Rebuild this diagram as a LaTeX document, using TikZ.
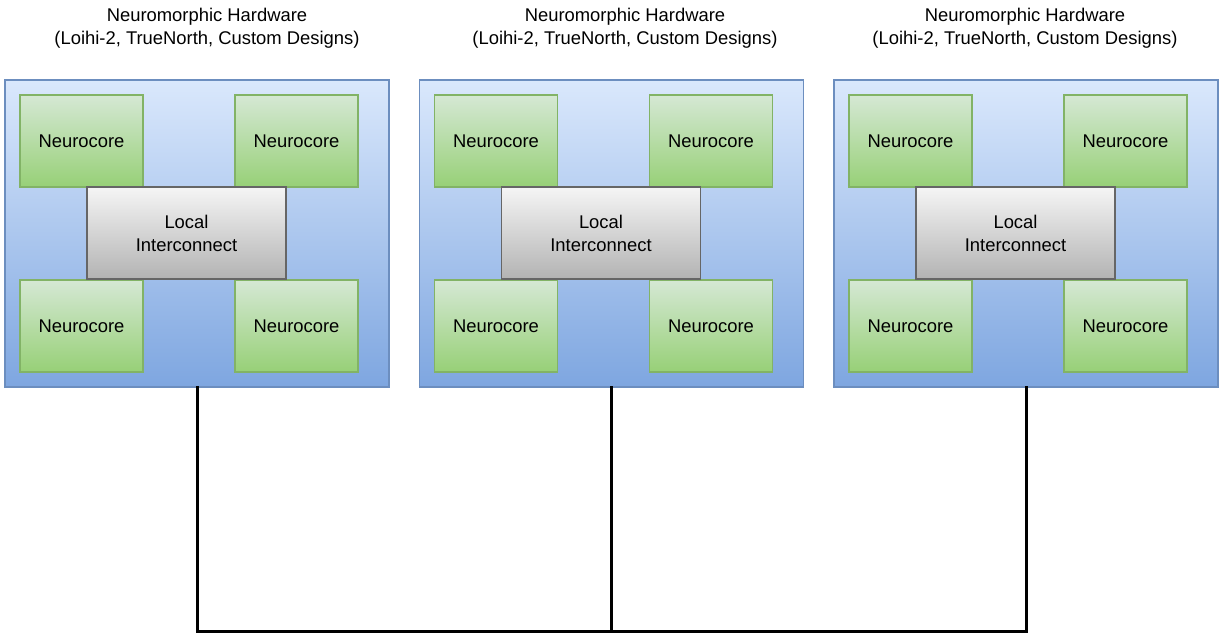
\documentclass[tikz,border=0pt]{standalone}
\usepackage{fontspec}
\setmainfont{Liberation Sans}
\begin{document}
\begin{tikzpicture}[x=1pt,y=-1pt,
  every node/.style={font=\fontsize{18.4}{23}\selectfont, align=center, inner sep=0pt},
  chip/.style={draw={rgb,255:red,108;green,142;blue,191}, line width=1.2pt, top color={rgb,255:red,218;green,232;blue,252}, bottom color={rgb,255:red,126;green,166;blue,224}, minimum width=384pt, minimum height=307pt},
  core/.style={draw={rgb,255:red,130;green,179;blue,102}, line width=1.2pt, top color={rgb,255:red,213;green,232;blue,212}, bottom color={rgb,255:red,151;green,208;blue,119}, minimum width=123pt, minimum height=92pt},
  lic/.style={draw={rgb,255:red,102;green,102;blue,102}, line width=1.2pt, top color={rgb,255:red,245;green,245;blue,245}, bottom color={rgb,255:red,179;green,179;blue,179}, minimum width=199pt, minimum height=92pt},
  bus/.style={line width=3pt, line cap=rect}]
\useasboundingbox (0,0) rectangle (1225,635);
\foreach \i/\dx/\tx in {1/0/207, 2/414.5/625, 3/829/1025}{
  \node[chip] (chip\i) at (197+\dx, 233.5) {};
  \node (title\i) at (\tx, 28) {Neuromorphic Hardware\\(Loihi-2, TrueNorth, Custom Designs)};
  \node[core] (tl\i) at (81.5+\dx, 141) {Neurocore};
  \node[core] (tr\i) at (296.5+\dx, 141) {Neurocore};
  \node[core] (bl\i) at (81.5+\dx, 326) {Neurocore};
  \node[core] (br\i) at (296.5+\dx, 326) {Neurocore};
  \node[lic] (li\i) at (186.5+\dx, 233) {Local\\Interconnect};
}
\coordinate (busL) at (197, 631);
\draw[bus] (chip1.south) -- (busL) -| (chip3.south);
\draw[bus] (chip2.south) -- (chip2.south |- busL);
\end{tikzpicture}
\end{document}
